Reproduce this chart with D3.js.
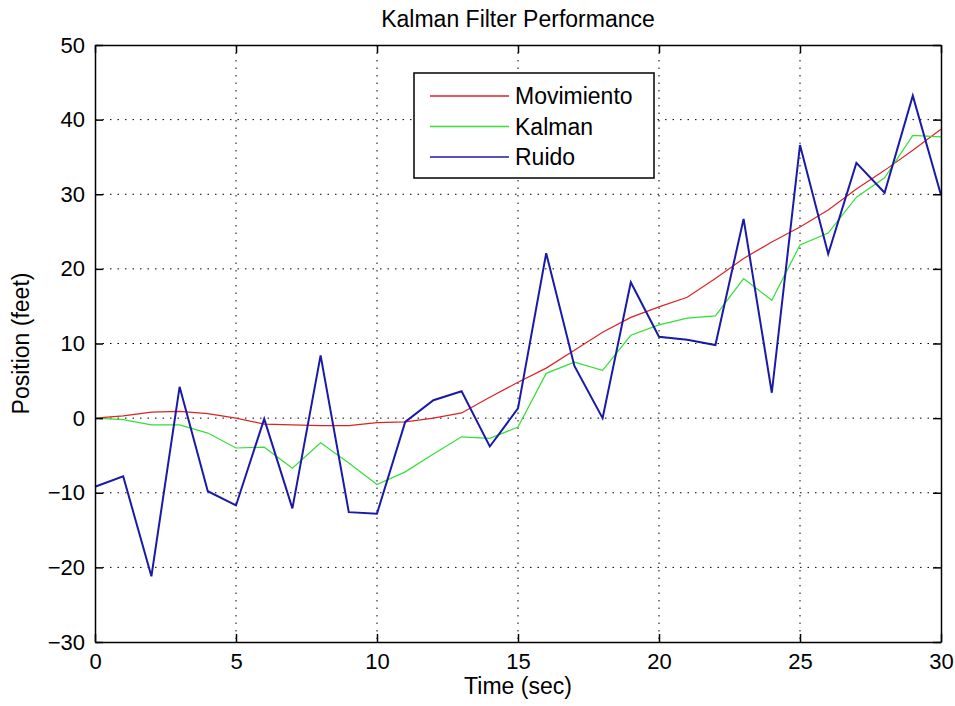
<!DOCTYPE html>
<html>
<head>
<meta charset="utf-8">
<script src="https://cdn.jsdelivr.net/npm/d3@7"></script>
<style>
  body { margin: 0; background: #fff; }
  text { font-family: "Liberation Sans", Arial, sans-serif; }
</style>
</head>
<body>
<div id="chart"></div>
<script>
// data
const time = d3.range(0, 31);
const movimiento = [0, 0.3, 0.8, 0.9, 0.6, 0, -0.8, -0.9, -1.0, -1.0, -0.6, -0.5, 0, 0.7, 2.8, 4.8, 6.7, 9.1, 11.5, 13.5, 14.9, 16.2, 18.7, 21.4, 23.6, 25.6, 27.9, 30.7, 33.2, 35.9, 38.7];
const kalman = [0, -0.2, -0.9, -0.9, -2.0, -4.0, -3.9, -6.7, -3.3, -6.0, -8.9, -7.2, -4.8, -2.5, -2.7, -1.2, 6.0, 7.5, 6.4, 11.1, 12.5, 13.4, 13.7, 18.7, 15.8, 23.2, 24.8, 29.6, 32.2, 37.9, 37.7];
const ruido = [-9.2, -7.8, -21.2, 4.2, -9.8, -11.7, -0.1, -12.1, 8.4, -12.6, -12.8, -0.5, 2.4, 3.6, -3.8, 1.3, 22.1, 7.0, 0, 18.2, 10.9, 10.5, 9.8, 26.7, 3.4, 36.6, 22.0, 34.2, 30.2, 43.2, 29.9];
const xTicks = [0, 5, 10, 15, 20, 25, 30];
const yTicks = [-30, -20, -10, 0, 10, 20, 30, 40, 50];
const seriesNames = ["Movimiento", "Kalman", "Ruido"];
const seriesColors = ["#dd2222", "#33e033", "#1a1aa8"];
const seriesWidths = [1.2, 1.2, 2];

const width = 955, height = 706;
const margin = {top: 45, right: 14, bottom: 64, left: 95};

const svg = d3.select("#chart").append("svg")
  .attr("width", width)
  .attr("height", height);

const x = d3.scaleLinear().domain([0, 30]).range([margin.left, width - margin.right]);
const y = d3.scaleLinear().domain([-30, 50]).range([height - margin.bottom, margin.top]);

// grid
const grid = svg.append("g").attr("stroke", "#000").attr("stroke-width", 1)
  .attr("stroke-dasharray", "1.5,6");
grid.selectAll(".gx").data(xTicks.slice(1, -1)).enter().append("line")
  .attr("x1", d => x(d)).attr("x2", d => x(d))
  .attr("y1", y(50)).attr("y2", y(-30));
grid.selectAll(".gy").data(yTicks.slice(1, -1)).enter().append("line")
  .attr("y1", d => y(d)).attr("y2", d => y(d))
  .attr("x1", x(0)).attr("x2", x(30));

// lines
const series = [movimiento, kalman, ruido];
const line = d3.line().x((d, i) => x(time[i])).y(d => y(d));
svg.append("g").selectAll("path").data(series).enter().append("path")
  .attr("d", d => line(d))
  .attr("fill", "none")
  .attr("stroke", (d, i) => seriesColors[i])
  .attr("stroke-width", (d, i) => seriesWidths[i]);

// axes (ticks inward, box on all sides)
const tickLen = 8;
const axisBottom = d3.axisBottom(x).tickValues(xTicks).tickSizeInner(-tickLen).tickSizeOuter(0).tickPadding(11);
const axisLeft = d3.axisLeft(y).tickValues(yTicks).tickSizeInner(-tickLen).tickSizeOuter(0).tickPadding(10);
const axisTop = d3.axisTop(x).tickValues(xTicks).tickSizeInner(-tickLen).tickSizeOuter(0).tickFormat("");
const axisRight = d3.axisRight(y).tickValues(yTicks).tickSizeInner(-tickLen).tickSizeOuter(0).tickFormat("");

function styleAxis(g) {
  g.select(".domain").attr("stroke", "#000").attr("stroke-width", 1.5);
  g.selectAll(".tick line").attr("stroke", "#000").attr("stroke-width", 1.5);
  g.selectAll(".tick text").attr("fill", "#000").style("font-size", "22px")
    .style("font-family", "'Liberation Sans', Arial, sans-serif");
}

svg.append("g").attr("transform", `translate(0,${y(-30)})`).call(axisBottom).call(styleAxis);
svg.append("g").attr("transform", `translate(${x(0)},0)`).call(axisLeft).call(styleAxis);
svg.append("g").attr("transform", `translate(0,${y(50)})`).call(axisTop).call(styleAxis);
svg.append("g").attr("transform", `translate(${x(30)},0)`).call(axisRight).call(styleAxis);

// title and labels
svg.append("text").attr("x", (x(0) + x(30)) / 2).attr("y", 27)
  .attr("text-anchor", "middle").style("font-size", "23px").text("Kalman Filter Performance");
svg.append("text").attr("x", (x(0) + x(30)) / 2).attr("y", 694)
  .attr("text-anchor", "middle").style("font-size", "23px").text("Time (sec)");
svg.append("text").attr("transform", `translate(29,${(y(50) + y(-30)) / 2}) rotate(-90)`)
  .attr("text-anchor", "middle").style("font-size", "23px").text("Position (feet)");

// legend
const legend = svg.append("g").attr("transform", "translate(414,73)");
legend.append("rect").attr("width", 240).attr("height", 105)
  .attr("fill", "#fff").attr("stroke", "#000").attr("stroke-width", 1.5);
const items = legend.selectAll(".item").data(seriesNames).enter().append("g")
  .attr("transform", (d, i) => `translate(0,${23 + i * 30.5})`);
items.append("line").attr("x1", 16).attr("x2", 95).attr("y1", 0).attr("y2", 0)
  .attr("stroke", (d, i) => seriesColors[i]).attr("stroke-width", 1.5);
items.append("text").attr("x", 101).attr("y", 8).style("font-size", "23px").text(d => d);
</script>
</body>
</html>
